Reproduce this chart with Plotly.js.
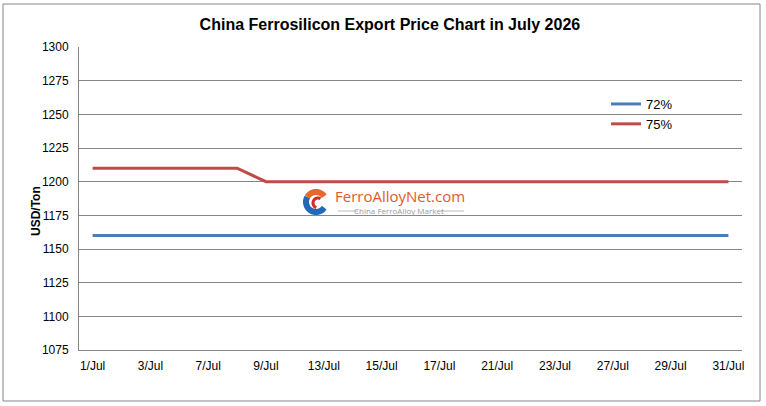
<!DOCTYPE html>
<html>
<head>
<meta charset="utf-8">
<script src="https://cdn.plot.ly/plotly-3.0.1.min.js"></script>
<style>
  html, body { margin: 0; padding: 0; background: #fff; }
  #chart { width: 766px; height: 406px; }
</style>
</head>
<body>
<div id="chart"></div>
<script>
// trading days of July 2026
const days = ['1/Jul', '2/Jul', '3/Jul', '6/Jul', '7/Jul', '8/Jul', '9/Jul', '10/Jul',
  '13/Jul', '14/Jul', '15/Jul', '16/Jul', '17/Jul', '20/Jul', '21/Jul', '22/Jul',
  '23/Jul', '24/Jul', '27/Jul', '28/Jul', '29/Jul', '30/Jul', '31/Jul'];

const fesi72 = [1160, 1160, 1160, 1160, 1160, 1160, 1160, 1160, 1160, 1160, 1160, 1160,
  1160, 1160, 1160, 1160, 1160, 1160, 1160, 1160, 1160, 1160, 1160];
const fesi75 = [1210, 1210, 1210, 1210, 1210, 1210, 1200, 1200, 1200, 1200, 1200, 1200,
  1200, 1200, 1200, 1200, 1200, 1200, 1200, 1200, 1200, 1200, 1200];

// every other day is labelled
const shownDays = ['1/Jul', '3/Jul', '7/Jul', '9/Jul', '13/Jul', '15/Jul', '17/Jul',
  '21/Jul', '23/Jul', '27/Jul', '29/Jul', '31/Jul'];

const yTicks = [1075, 1100, 1125, 1150, 1175, 1200, 1225, 1250, 1275, 1300];

// plot area in pixels, used to place the frame and watermark
const L = 79, R = 742, T = 47, B = 350;
const px = (x) => (x - L) / (R - L);
const py = (y) => (B - y) / (B - T);

// little arc helper for the watermark logo (paper coords)
function arcPath(cx, cy, r, a0, a1) {
  let d = '';
  const n = 24;
  for (let i = 0; i <= n; i++) {
    const a = (a0 + (a1 - a0) * i / n) * Math.PI / 180;
    const x = px(cx + r * Math.cos(a));
    const y = py(cy - r * Math.sin(a));
    d += (i === 0 ? 'M' : 'L') + x.toFixed(4) + ',' + y.toFixed(4);
  }
  return d;
}

const traces = [
  {
    x: days, y: fesi72, name: '72%',
    type: 'scatter', mode: 'lines',
    line: { color: '#4a7ebb', width: 3 }
  },
  {
    x: days, y: fesi75, name: '75%',
    type: 'scatter', mode: 'lines',
    line: { color: '#be4b48', width: 3 }
  }
];

const layout = {
  width: 766, height: 406,
  paper_bgcolor: '#fff', plot_bgcolor: '#fff',
  margin: { l: L, r: 766 - R, t: T, b: 406 - B },
  font: { family: 'Liberation Sans, Arial, sans-serif', size: 12, color: '#000' },
  title: {
    text: '<b>China Ferrosilicon Export Price Chart in July 2026</b>',
    font: { size: 16, color: '#000' },
    x: 0.509, xanchor: 'center', y: 0.941, yanchor: 'middle'
  },
  showlegend: true,
  legend: {
    x: px(606), y: py(89), xanchor: 'left', yanchor: 'top',
    bgcolor: 'rgba(0,0,0,0)', font: { size: 13 },
    tracegroupgap: 0, itemwidth: 30
  },
  xaxis: {
    type: 'category', range: [-0.47, 22.47],
    tickmode: 'array', tickvals: shownDays, ticktext: shownDays,
    showgrid: false, zeroline: false,
    showline: true, linecolor: '#868686', linewidth: 1,
    ticks: '', ticklabelstandoff: 5,
    tickfont: { size: 12 }, fixedrange: true
  },
  yaxis: {
    range: [1075, 1300], tickvals: yTicks,
    showgrid: true, gridcolor: '#868686', gridwidth: 1,
    zeroline: false, showline: true, linecolor: '#868686', linewidth: 1,
    ticks: '', ticklabelstandoff: 7,
    tickfont: { size: 12 }, fixedrange: true
  },
  shapes: [
    // outer chart frame
    { type: 'rect', xref: 'paper', yref: 'paper',
      x0: px(3), x1: px(760), y0: py(401), y1: py(4),
      line: { color: '#868686', width: 1 }, layer: 'below' },
    // watermark logo
    { type: 'path', xref: 'paper', yref: 'paper', path: arcPath(316, 202, 10, 150, 325),
      line: { color: '#2468b8', width: 6 } },
    { type: 'path', xref: 'paper', yref: 'paper', path: arcPath(316, 202, 10, 35, 150),
      line: { color: '#e8672a', width: 6 } },
    { type: 'path', xref: 'paper', yref: 'paper', path: arcPath(318, 203, 5, 60, 250),
      line: { color: '#d42b2b', width: 3 } },
    { type: 'line', xref: 'paper', yref: 'paper',
      x0: px(338), x1: px(358), y0: py(211), y1: py(211),
      line: { color: '#bbbbbb', width: 1 } },
    { type: 'line', xref: 'paper', yref: 'paper',
      x0: px(441), x1: px(464), y0: py(211), y1: py(211),
      line: { color: '#bbbbbb', width: 1 } }
  ],
  annotations: [
    { xref: 'paper', yref: 'paper', x: px(27), y: py(211),
      text: '<b>USD/Ton</b>', textangle: -90, showarrow: false,
      font: { size: 12, color: '#000' } },
    { xref: 'paper', yref: 'paper', x: px(333), y: py(196), xanchor: 'left',
      text: 'FerroAlloyNet.com', showarrow: false,
      font: { family: 'Open Sans, sans-serif', size: 15, color: '#e2592b' } },
    { xref: 'paper', yref: 'paper', x: px(399), y: py(210),
      text: 'China FerroAlloy Market', showarrow: false,
      font: { family: 'Open Sans, sans-serif', size: 8, color: '#999999' } }
  ]
};

Plotly.newPlot('chart', traces, layout, { displayModeBar: false, staticPlot: true });
</script>
</body>
</html>
